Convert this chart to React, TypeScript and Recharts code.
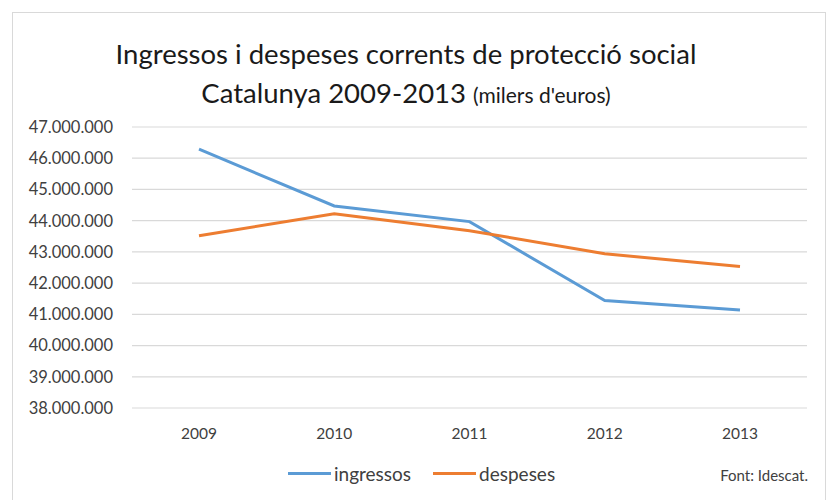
import { CartesianGrid, Line, LineChart, XAxis, YAxis } from "recharts";

const years = ["2009", "2010", "2011", "2012", "2013"];
const ingressos = [46290000, 44470000, 43970000, 41440000, 41140000];
const despeses = [43520000, 44220000, 43680000, 42940000, 42530000];
const yTicks = [38000000, 39000000, 40000000, 41000000, 42000000, 43000000, 44000000, 45000000, 46000000, 47000000];

const series = [
  { key: "ingressos", label: "ingressos", color: "#5B9BD5" },
  { key: "despeses", label: "despeses", color: "#ED7D31" },
];

const data = years.map((year, i) => ({
  year,
  ingressos: ingressos[i],
  despeses: despeses[i],
}));

const FONT = "Lato, 'Open Sans', sans-serif";
const fmt = (v: number) => String(v).replace(/\B(?=(\d{3})+(?!\d))/g, ".");

export default function App() {
  return (
    <div style={{ position: "absolute", left: 0, top: 0, width: 830, height: 500, overflow: "hidden", background: "#fff", fontFamily: FONT }}>
      <div style={{ position: "absolute", left: 12, top: 12, width: 814, height: 520, border: "1px solid #d9d9d9", boxSizing: "border-box" }} />
      <div style={{ position: "absolute", left: -9, top: 34, width: 830, textAlign: "center", fontSize: 27.5, color: "#1a1a1a", lineHeight: "39px" }}>
        Ingressos i despeses corrents de protecció social
        <br />
        Catalunya 2009-2013 <span style={{ fontSize: 21 }}>(milers d'euros)</span>
      </div>
      <div style={{ position: "absolute", left: 0, top: 0 }}>
        <LineChart width={830} height={500} data={data} margin={{ top: 127, right: 23, bottom: 62, left: 12 }}>
          <CartesianGrid vertical={false} stroke="#d9d9d9" strokeWidth={1.2} />
          <XAxis
            dataKey="year"
            axisLine={false}
            tickLine={false}
            height={30}
            padding={{ left: 67, right: 67 }}
            tick={{ fill: "#404040", fontSize: 15.5, fontFamily: FONT }}
            tickMargin={14}
          />
          <YAxis
            domain={[38000000, 47000000]}
            ticks={yTicks}
            width={120}
            axisLine={false}
            tickLine={false}
            tickFormatter={fmt}
            tick={{ fill: "#404040", fontSize: 16.5, fontFamily: FONT }}
            tickMargin={13}
          />
          {series.map((s) => (
            <Line
              key={s.key}
              dataKey={s.key}
              stroke={s.color}
              strokeWidth={3}
              dot={false}
              isAnimationActive={false}
            />
          ))}
        </LineChart>
      </div>
      <div style={{ position: "absolute", left: 288, top: 462, display: "flex", alignItems: "center", fontSize: 19, color: "#404040" }}>
        {series.map((s) => (
          <div key={s.key} style={{ display: "flex", alignItems: "center", marginRight: 22 }}>
            <span style={{ display: "inline-block", width: 43, height: 3, background: s.color, marginRight: 3 }} />
            {s.label}
          </div>
        ))}
      </div>
      <div style={{ position: "absolute", right: 22, top: 466, fontSize: 15, color: "#404040" }}>Font: Idescat.</div>
    </div>
  );
}
